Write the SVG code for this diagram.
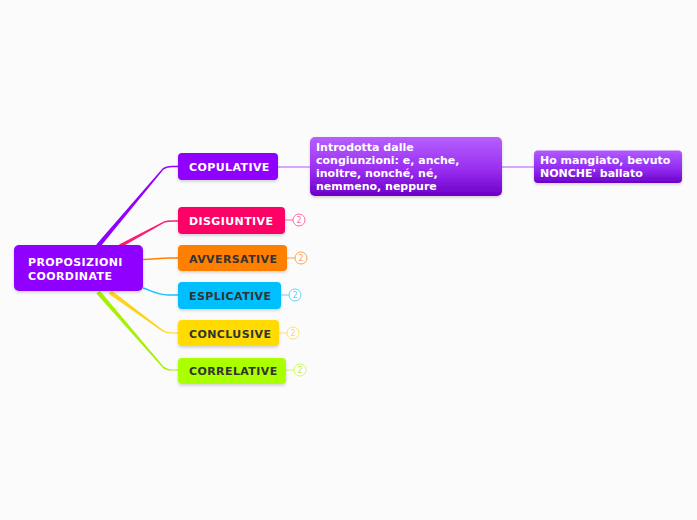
<svg xmlns="http://www.w3.org/2000/svg" width="697" height="520" viewBox="0 0 697 520">
<defs>
<filter id="sh" x="-10%" y="-20%" width="120%" height="150%">
<feDropShadow dx="0" dy="1.5" stdDeviation="1.5" flood-color="#000" flood-opacity="0.18"/>
</filter>
<linearGradient id="gp" x1="0" y1="0" x2="0" y2="1">
<stop offset="0" stop-color="#b65fff"/>
<stop offset="0.55" stop-color="#9a2ef0"/>
<stop offset="1" stop-color="#6c00c8"/>
</linearGradient>
<linearGradient id="gp2" x1="0" y1="0" x2="0" y2="1">
<stop offset="0" stop-color="#b05aff"/>
<stop offset="0.6" stop-color="#9128f0"/>
<stop offset="1" stop-color="#6c00c8"/>
</linearGradient>
</defs>
<style>
text{font-family:"DejaVu Sans",Verdana,sans-serif;font-weight:bold;font-size:11px}
.w{fill:#ffffff}
.d{fill:#333333}
.c{letter-spacing:0.4px}
.badge{fill:#ffffff;stroke-width:1}
.bt{font-size:8px;font-weight:normal;text-anchor:middle;letter-spacing:0}
</style>
<rect width="697" height="520" fill="#fbfbfb"/>
<g id="connectors">
<path d="M96.3,244.6 L162.5,168.5 Q166,165.8 172,165.8 L178,165.8 L178,167.2 L172,167.2 Q167,167.2 163.5,169.5 L99.7,247.4 Z" fill="#9000ff"/>
<path d="M119.1,244.4 L163.7,221.5 Q167,220.3 172,220.3 L178,220.3 L178,221.7 L172,221.7 Q167.5,221.7 164.3,222.7 L120.9,247.6 Z" fill="#ff1a75"/>
<path d="M143,259.5 C155,259 160,258 170,258 L178,258" fill="none" stroke="#ff8000" stroke-width="1.5"/>
<path d="M143,288 C152,291 158,295 168,295 L178,295" fill="none" stroke="#1ec0ff" stroke-width="1.5"/>
<path d="M111.3,290.2 L163.4,330.5 Q167,332.4 172,332.4 L178,332.4 L178,333.6 L172,333.6 Q166.5,333.6 162.6,331.5 L108.7,293.8 Z" fill="#ffd21a"/>
<path d="M99.7,290.6 L163.5,366.6 Q167,369.4 172,369.4 L178,369.4 L178,370.6 L172,370.6 Q166,370.6 162.5,367.4 L96.3,293.4 Z" fill="#a6f000"/>
<path d="M278,167 L310,167" stroke="#cc8cff" stroke-width="1.5" fill="none"/>
<path d="M502,167 L534,167" stroke="#cc8cff" stroke-width="1.5" fill="none"/>
<path d="M285,220 L293,220" stroke="#ff6ca5" stroke-width="1"/>
<path d="M287,258 L295,258" stroke="#ffa04d" stroke-width="1"/>
<path d="M281,295 L289,295" stroke="#60d2ff" stroke-width="1"/>
<path d="M279,333 L287,333" stroke="#ffe066" stroke-width="1"/>
<path d="M286,370 L294,370" stroke="#c8ff55" stroke-width="1"/>
</g>
<g id="root">
<rect x="14" y="245" width="129" height="46" rx="5" fill="#9000ff" filter="url(#sh)"/>
<text class="w c" x="28" y="266">PROPOSIZIONI</text>
<text class="w c" x="28" y="280">COORDINATE</text>
</g>
<g id="copulative">
<rect x="178" y="153" width="100" height="27" rx="4" fill="#9000ff" filter="url(#sh)"/>
<text class="w c" x="189" y="171">COPULATIVE</text>
</g>
<g id="disgiuntive">
<rect x="178" y="207" width="107" height="27" rx="4" fill="#ff0066" filter="url(#sh)"/>
<text class="w c" x="189" y="225">DISGIUNTIVE</text>
<circle class="badge" cx="299" cy="220" r="6" stroke="#ff6ca5"/>
<text class="bt" x="299" y="223" fill="#ff6ca5">2</text>
</g>
<g id="avversative">
<rect x="178" y="245" width="109" height="26" rx="4" fill="#ff8000" filter="url(#sh)"/>
<text class="d c" x="189" y="263">AVVERSATIVE</text>
<circle class="badge" cx="301" cy="258" r="6" stroke="#ffa04d"/>
<text class="bt" x="301" y="261" fill="#ffa04d">2</text>
</g>
<g id="esplicative">
<rect x="178" y="282" width="103" height="27" rx="4" fill="#00bfff" filter="url(#sh)"/>
<text class="d c" x="189" y="300">ESPLICATIVE</text>
<circle class="badge" cx="295" cy="295" r="6" stroke="#60d2ff"/>
<text class="bt" x="295" y="298" fill="#60d2ff">2</text>
</g>
<g id="conclusive">
<rect x="178" y="320" width="101" height="26" rx="4" fill="#ffdb00" filter="url(#sh)"/>
<text class="d c" x="189" y="338">CONCLUSIVE</text>
<circle class="badge" cx="293" cy="333" r="6" stroke="#ffe066"/>
<text class="bt" x="293" y="336" fill="#ffd84d">2</text>
</g>
<g id="correlative">
<rect x="178" y="358" width="108" height="26" rx="4" fill="#aaff00" filter="url(#sh)"/>
<text class="d c" x="189" y="375">CORRELATIVE</text>
<circle class="badge" cx="300" cy="370" r="6" stroke="#c8ff55"/>
<text class="bt" x="300" y="373" fill="#b8f040">2</text>
</g>
<g id="intro">
<rect x="310" y="137" width="192" height="59" rx="5" fill="url(#gp)" filter="url(#sh)"/>
<text class="w" x="316" y="151">Introdotta dalle</text>
<text class="w" x="316" y="164">congiunzioni: e, anche,</text>
<text class="w" x="316" y="177">inoltre, nonché, né,</text>
<text class="w" x="316" y="190">nemmeno, neppure</text>
</g>
<g id="esempio">
<rect x="534" y="150.5" width="148" height="32.5" rx="4" fill="url(#gp2)" filter="url(#sh)"/>
<text class="w" x="540" y="164">Ho mangiato, bevuto</text>
<text class="w" x="540" y="177">NONCHE' ballato</text>
</g>
</svg>
